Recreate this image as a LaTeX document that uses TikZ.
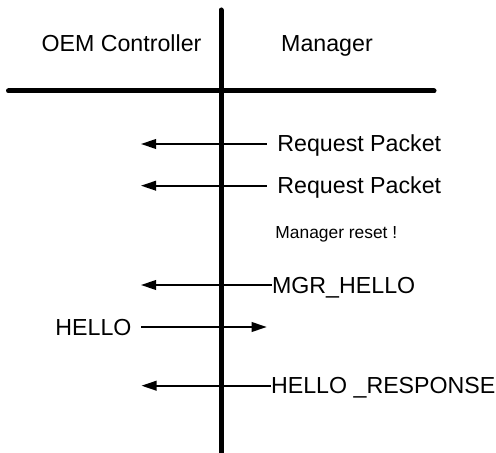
\documentclass[tikz,border=0pt]{standalone}
\usepackage{fontspec}
\setmainfont{Liberation Sans}
\usetikzlibrary{arrows.meta}
\begin{document}
\begin{tikzpicture}[x=0.5pt,y=-0.5pt,
  axis/.style={line width=2.5pt,line cap=round},
  msg/.style={line width=0.9pt,-{Triangle[length=7.5pt,width=4.8pt]}},
  lbl/.style={inner sep=0pt,font=\fontsize{11.6}{14}\selectfont},
  note/.style={inner sep=0pt,font=\fontsize{8.7}{10.5}\selectfont}]
\useasboundingbox (0,0) rectangle (496,453);

% lifeline and header separator
\coordinate (vtop) at (221,10);
\coordinate (vbot) at (221,460);
\coordinate (hleft) at (8.5,91);
\coordinate (hright) at (434,91);
\draw[axis] (hleft) -- (hright);
\draw[axis] (vtop) -- (vbot);

% column headings
\node[lbl,anchor=base] (oem) at (121.5,52) {OEM Controller};
\node[lbl,anchor=base] (mgr) at (327,52) {Manager};

% message labels
\node[lbl,anchor=base west] (rp1) at (277,152) {Request Packet};
\node[lbl,anchor=base west] (rp2) at (277,193.7) {Request Packet};
\node[note,anchor=base west] (reset) at (275,239) {Manager reset !};
\node[lbl,anchor=base west] (mh) at (271.7,293) {MGR\_HELLO};
\node[lbl,anchor=base west] (hello) at (55,335) {HELLO};
\node[lbl,anchor=base west] (hr) at (270.7,393.7) {HELLO \_RESPONSE};

% message arrow ends
\coordinate (rp1s) at (266.5,144);  \coordinate (rp1e) at (141,144);
\coordinate (rp2s) at (266.5,185.7);\coordinate (rp2e) at (141,185.7);
\coordinate (mhs) at (271.5,285);   \coordinate (mhe) at (141,285);
\coordinate (hs) at (141,327);      \coordinate (he) at (266.7,327);
\coordinate (hrs) at (270.5,385.7); \coordinate (hre) at (141.5,385.7);

\draw[msg] (rp1s) -- (rp1e);
\draw[msg] (rp2s) -- (rp2e);
\draw[msg] (mhs) -- (mhe);
\draw[msg] (hs) -- (he);
\draw[msg] (hrs) -- (hre);
\end{tikzpicture}
\end{document}
